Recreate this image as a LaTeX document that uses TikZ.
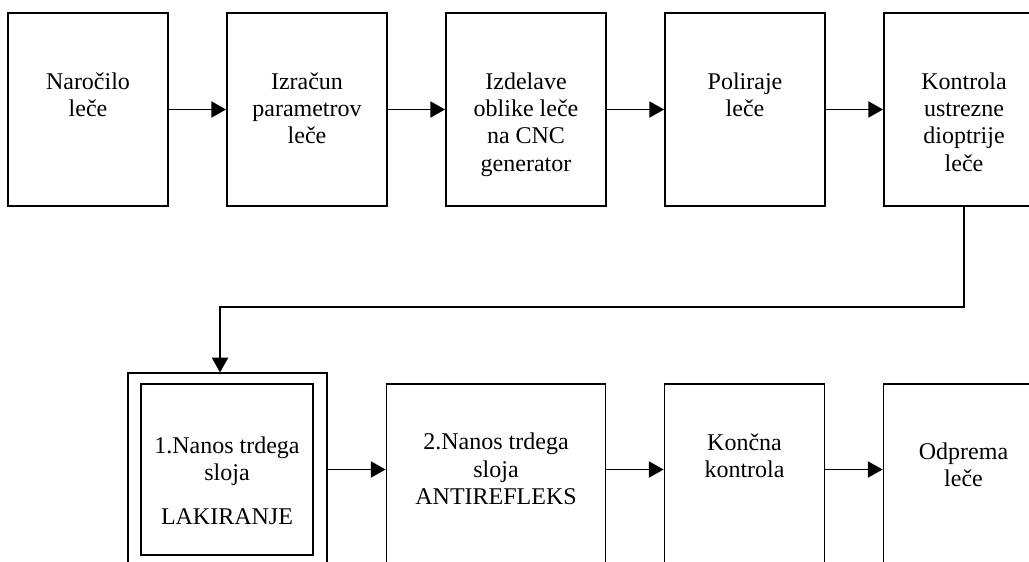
\documentclass[tikz,border=0pt]{standalone}
\usepackage{fontspec}
\setmainfont{Liberation Serif}
\usepackage{tikz}
\usetikzlibrary{arrows.meta,positioning}

\begin{document}
\begin{tikzpicture}[
            x=0.75pt, y=-0.75pt,
            node distance=42.85pt,
            box/.style={rectangle, draw, line width=1.4pt, minimum width=120pt, minimum height=144.75pt, inner sep=0pt},
            lbl/.style={align=center, inner sep=0pt, font=\fontsize{18}{20.5}\selectfont},
            flow/.style={-{Triangle[length=11pt,width=12pt]}, line width=1.4pt}
          ]

          % Frame
          \useasboundingbox (0,0) rectangle (1029,561);
          \clip (0,0) rectangle (1029,561);

          % Upper row
          \node[box] (nar) at (88,109.5) {};
          \node[box, right=of nar] (izr) {};
          \node[box, right=of izr] (izd) {};
          \node[box, right=of izd] (pol) {};
          \node[box, right=of pol] (kon) {};

          % Lower row
          \node[box, line width=0.9pt, minimum width=149.25pt] (lak) at (227.5,469.5) {};
          \node[box, line width=1.7pt, minimum width=129pt, minimum height=128.25pt] (lakin) at (227,469.5) {};
          \node[box, minimum width=164.25pt, anchor=north west] (anti) at ([xshift=43.5pt, yshift=-8.25pt]lak.north east) {};
          \node[box, right=of anti] (konc) {};
          \node[box, right=of konc] (odp) {};

          % Texts (anchored at the last line)
          \node[lbl, anchor=base] (nar-t) at ([yshift=-78.25pt]nar.north) {Naročilo\\leče};
          \node[lbl, anchor=base] (izr-t) at ([yshift=-98.75pt]izr.north) {Izračun\\parametrov\\leče};
          \node[lbl, anchor=base] (izd-t) at ([yshift=-119.25pt]izd.north) {Izdelave\\oblike leče\\na CNC\\generator};
          \node[lbl, anchor=base] (pol-t) at ([yshift=-78.25pt]pol.north) {Poliraje\\leče};
          \node[lbl, anchor=base] (kon-t) at ([yshift=-119.25pt]kon.north) {Kontrola\\ustrezne\\dioptrije\\leče};
          \node[lbl, anchor=base] (lak-t) at ([yshift=-106.5pt]lakin.north) {1.Nanos trdega\\sloja\\[12.5pt]LAKIRANJE};
          \node[lbl, anchor=base] (anti-t) at ([yshift=-90.75pt]anti.north) {2.Nanos trdega\\sloja\\ANTIREFLEKS};
          \node[lbl, anchor=base] (konc-t) at ([yshift=-70.5pt]konc.north) {Končna\\kontrola};
          \node[lbl, anchor=base] (odp-t) at ([yshift=-77.25pt]odp.north) {Odprema\\leče};

          % Edges
          \draw[flow] (nar) -- (izr);
          \draw[flow] (izr) -- (izd);
          \draw[flow] (izd) -- (pol);
          \draw[flow] (pol) -- (kon);
          \draw[flow] (kon.south) -- ++(0,-75pt) -| ([xshift=-5.6pt]lak.north);
          \draw[flow] (lak.east) -- (lak.east -| anti.west);
          \draw[flow] (anti.east |- lak.east) -- (konc.west |- lak.east);
          \draw[flow] (konc.east |- lak.east) -- (odp.west |- lak.east);

        \end{tikzpicture}
\end{document}
